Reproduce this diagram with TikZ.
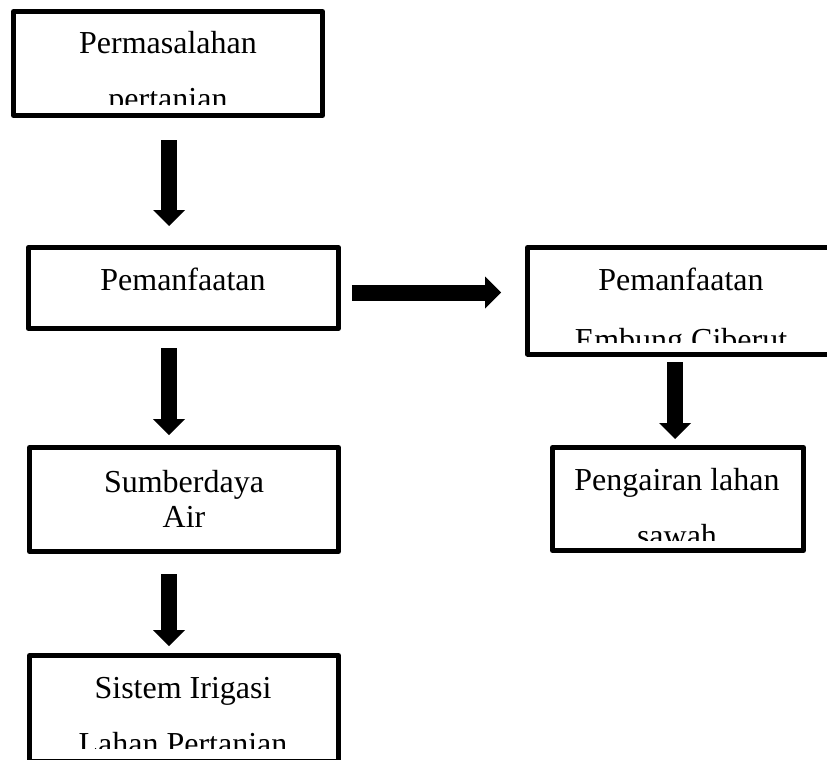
\documentclass[tikz,border=0pt]{standalone}
\usepackage{fontspec}
\setmainfont{Liberation Serif}
\usetikzlibrary{arrows.meta,calc}
\tikzset{
  box/.style={draw, line width=5pt, line join=round, inner sep=0pt},
  lbl/.style={anchor=base, inner sep=0pt, font=\fontsize{32}{38}\selectfont},
  blk/.style={line width=16pt, -{Triangle[length=16pt,width=32pt,line width=0pt]}},
}
\begin{document}
\begin{tikzpicture}[x=1pt,y=-1pt]
\useasboundingbox (0,0) rectangle (827,760);
% boxes
\node[box, minimum width=309pt, minimum height=104pt] (b1) at (168,63.5) {};
\node[box, minimum width=310pt, minimum height=81pt] (b2) at (183.3,288) {};
\node[box, minimum width=309pt, minimum height=104pt] (b3) at (184,499.5) {};
\node[box, minimum width=309pt, minimum height=106pt] (b4) at (184,708.5) {};
\node[box, minimum width=305pt, minimum height=106.5pt] (b5) at (680,300.75) {};
\node[box, minimum width=251pt, minimum height=103pt] (b6) at (678,499) {};
% texts
\begin{scope}
  \clip (16,16) rectangle (320,104);
  \node[lbl] (t1a) at (168,53) {Permasalahan};
  \node[lbl] (t1b) at (168,109) {pertanian};
\end{scope}
\node[lbl] (t2) at (183,290) {Pemanfaatan};
\node[lbl] (t3a) at (184,492) {Sumberdaya};
\node[lbl] (t3b) at (184,527) {Air};
\begin{scope}
  \clip (32,658) rectangle (336,748);
  \node[lbl] (t4a) at (183,698) {Sistem Irigasi};
  \node[lbl] (t4b) at (183,754) {Lahan Pertanian};
\end{scope}
\begin{scope}
  \clip (530,250) rectangle (827,342);
  \node[lbl] (t5a) at (681,290) {Pemanfaatan};
  \node[lbl] (t5b) at (681,350) {Embung Ciberut};
\end{scope}
\begin{scope}
  \clip (555,450) rectangle (801,540);
  \node[lbl] (t6a) at (677,490) {Pengairan lahan};
  \node[lbl] (t6b) at (677,546) {sawah};
\end{scope}
% arrows
\draw[blk] ($(b1.south)+(1,22)$) -- ($(b1.south |- b2.north)+(1,-19)$);
\draw[blk] ($(b1.south |- b2.south)+(1,17)$) -- ($(b1.south |- b3.north)+(1,-10)$);
\draw[blk] ($(b1.south |- b3.south)+(1,20)$) -- ($(b1.south |- b4.north)+(1,-7)$);
\draw[blk] ($(b2.east)+(11,4.5)$) -- ($(b5.west |- b2.east)+(-24,4.5)$);
\draw[blk] ($(b6.north |- b5.south)+(-3,5.5)$) -- ($(b6.north)+(-3,-6)$);
\end{tikzpicture}
\end{document}
